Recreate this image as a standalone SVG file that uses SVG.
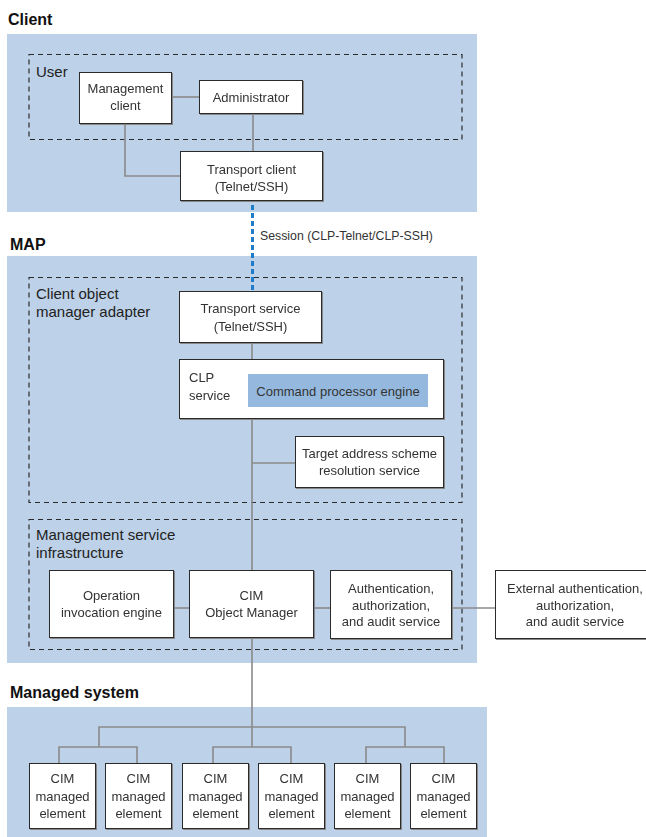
<svg xmlns="http://www.w3.org/2000/svg" width="646" height="837" viewBox="0 0 646 837">
<style>
.bg{fill:#bdd1e8}
.dash{fill:none;stroke:#2a2a2a;stroke-width:1.2;stroke-dasharray:5 4}
.box{fill:#fff;stroke:#2a2a2a;stroke-width:1}
.sh{fill:#8d8d8d}
.title{font-family:"Liberation Sans",Arial,sans-serif;font-weight:bold;font-size:16px;fill:#111}
.lbl{font-family:"Liberation Sans",Arial,sans-serif;font-size:15px;fill:#222}
.t{font-family:"Liberation Sans",Arial,sans-serif;font-size:13px;fill:#333;text-anchor:middle}
.tl{font-family:"Liberation Sans",Arial,sans-serif;font-size:13px;fill:#333}
.c{fill:none;stroke:#8a8a8a;stroke-width:1.6}
</style>
<defs>
<filter id="s" x="-5%" y="-5%" width="110%" height="115%"><feOffset dx="1" dy="1" in="SourceAlpha" result="o"/><feFlood flood-color="#888"/><feComposite in2="o" operator="in"/><feMerge><feMergeNode/><feMergeNode in="SourceGraphic"/></feMerge></filter>
</defs>

<!-- sections -->
<g id="client-section">
<text class="title" x="8" y="25">Client</text>
<rect class="bg" x="7" y="34" width="470" height="178"/>
<rect class="dash" x="29" y="54.5" width="433" height="85"/>
<text class="lbl" x="36" y="77">User</text>
</g>
<g id="map-section">
<text class="title" x="10" y="250">MAP</text>
<rect class="bg" x="7" y="256" width="470" height="407"/>
<rect class="dash" x="29" y="277.5" width="433" height="225"/>
<text class="lbl" x="36" y="299">Client object</text>
<text class="lbl" x="36" y="317">manager adapter</text>
<rect class="dash" x="29" y="519.5" width="433" height="130"/>
<text class="lbl" x="36" y="540">Management service</text>
<text class="lbl" x="36" y="558">infrastructure</text>
</g>
<g id="managed-section">
<text class="title" x="10" y="698">Managed system</text>
<rect class="bg" x="7" y="707" width="480" height="130"/>
</g>

<!-- connectors -->
<g id="connectors">
<path class="c" d="M172 97H199"/>
<path class="c" d="M253 114V151"/>
<path class="c" d="M125 124V176H180"/>
<path d="M252.5 205V291" fill="none" stroke="#1f7cc8" stroke-width="3" stroke-dasharray="5 3"/>
<path class="c" d="M252 343V359"/>
<path class="c" d="M252 419V570"/>
<path class="c" d="M252 463H295"/>
<path class="c" d="M174 608H189"/>
<path class="c" d="M314 608H330"/>
<path class="c" d="M452 608H495"/>
<path class="c" d="M252 638V747"/>
<path class="c" d="M99 747V727H405V747"/>
<path class="c" d="M59 763V747H137V763"/>
<path class="c" d="M213 763V747H291V763"/>
<path class="c" d="M366 763V747H444V763"/>
</g>
<text class="tl" x="260" y="240" style="font-size:12.3px">Session (CLP-Telnet/CLP-SSH)</text>

<!-- nodes -->
<g id="management-client" filter="url(#s)">
<rect class="box" x="79.5" y="72.5" width="92" height="51"/>
<text class="t" x="125.5" y="93">Management</text>
<text class="t" x="125.5" y="110">client</text>
</g>
<g id="administrator" filter="url(#s)">
<rect class="box" x="199.5" y="80.5" width="103" height="33"/>
<text class="t" x="251" y="102">Administrator</text>
</g>
<g id="transport-client" filter="url(#s)">
<rect class="box" x="180.5" y="151.5" width="142" height="49"/>
<text class="t" x="251.5" y="174">Transport client</text>
<text class="t" x="251.5" y="191">(Telnet/SSH)</text>
</g>
<g id="transport-service" filter="url(#s)">
<rect class="box" x="179.5" y="291.5" width="142" height="51"/>
<text class="t" x="250.5" y="313">Transport service</text>
<text class="t" x="250.5" y="331">(Telnet/SSH)</text>
</g>
<g id="clp-service" filter="url(#s)">
<rect class="box" x="179.5" y="359.5" width="264" height="59"/>
<text class="tl" x="189" y="382">CLP</text>
<text class="tl" x="189" y="400">service</text>
</g>
<g id="command-processor-engine">
<rect x="248" y="374" width="180" height="33" fill="#95b9de"/>
<text class="t" x="338" y="396">Command processor engine</text>
</g>
<g id="target-address" filter="url(#s)">
<rect class="box" x="295.5" y="436.5" width="148" height="51"/>
<text class="t" x="369.5" y="458">Target address scheme</text>
<text class="t" x="369.5" y="475">resolution service</text>
</g>
<g id="operation-invocation-engine" filter="url(#s)">
<rect class="box" x="49.5" y="570.5" width="124" height="67"/>
<text class="t" x="111.5" y="600">Operation</text>
<text class="t" x="111.5" y="617">invocation engine</text>
</g>
<g id="cim-object-manager" filter="url(#s)">
<rect class="box" x="189.5" y="570.5" width="124" height="67"/>
<text class="t" x="251.5" y="600">CIM</text>
<text class="t" x="251.5" y="617">Object Manager</text>
</g>
<g id="aaa-service" filter="url(#s)">
<rect class="box" x="330.5" y="570.5" width="121" height="68"/>
<text class="t" x="391" y="593">Authentication,</text>
<text class="t" x="391" y="609.5">authorization,</text>
<text class="t" x="391" y="626">and audit service</text>
</g>
<g id="external-aaa-service" filter="url(#s)">
<rect class="box" x="495.5" y="570.5" width="160" height="68"/>
<text class="t" x="575" y="593">External authentication,</text>
<text class="t" x="575" y="609.5">authorization,</text>
<text class="t" x="575" y="626">and audit service</text>
</g>
<g id="element-1" filter="url(#s)">
<rect class="box" x="29.5" y="763.5" width="66" height="65"/>
<text class="t" x="62.5" y="783">CIM</text><text class="t" x="62.5" y="801">managed</text><text class="t" x="62.5" y="818">element</text>
</g>
<g id="element-2" filter="url(#s)">
<rect class="box" x="105.5" y="763.5" width="66" height="65"/>
<text class="t" x="138.5" y="783">CIM</text><text class="t" x="138.5" y="801">managed</text><text class="t" x="138.5" y="818">element</text>
</g>
<g id="element-3" filter="url(#s)">
<rect class="box" x="182.5" y="763.5" width="66" height="65"/>
<text class="t" x="215.5" y="783">CIM</text><text class="t" x="215.5" y="801">managed</text><text class="t" x="215.5" y="818">element</text>
</g>
<g id="element-4" filter="url(#s)">
<rect class="box" x="258.5" y="763.5" width="66" height="65"/>
<text class="t" x="291.5" y="783">CIM</text><text class="t" x="291.5" y="801">managed</text><text class="t" x="291.5" y="818">element</text>
</g>
<g id="element-5" filter="url(#s)">
<rect class="box" x="334.5" y="763.5" width="66" height="65"/>
<text class="t" x="367.5" y="783">CIM</text><text class="t" x="367.5" y="801">managed</text><text class="t" x="367.5" y="818">element</text>
</g>
<g id="element-6" filter="url(#s)">
<rect class="box" x="410.5" y="763.5" width="66" height="65"/>
<text class="t" x="443.5" y="783">CIM</text><text class="t" x="443.5" y="801">managed</text><text class="t" x="443.5" y="818">element</text>
</g>
</svg>
